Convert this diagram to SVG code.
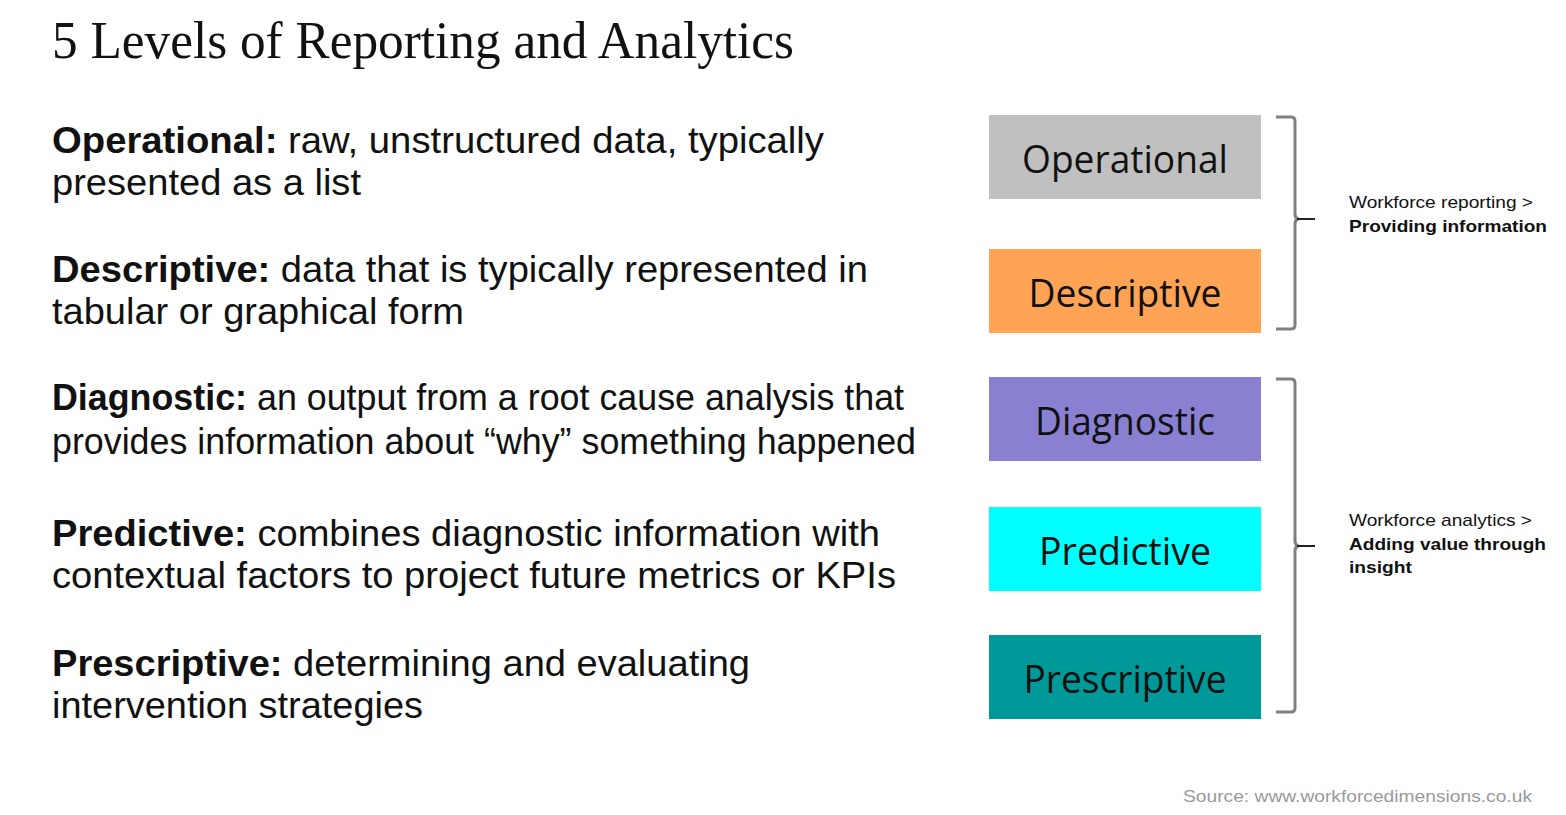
<svg xmlns="http://www.w3.org/2000/svg" width="1566" height="815" viewBox="0 0 1566 815">
<style>
.title{font-family:"Liberation Serif","Times New Roman",serif;font-size:53px;fill:#111}
.desc{font-family:"Liberation Sans",Arial,sans-serif;font-size:37px;fill:#111}
.b{font-weight:bold}
.box text{font-family:"Open Sans","Noto Sans",sans-serif;font-size:38px;fill:#111;text-anchor:middle}
.note{font-family:"Liberation Sans",Arial,sans-serif;font-size:17px;fill:#111}
.src{font-family:"Liberation Sans",Arial,sans-serif;font-size:17px;fill:#9a9a9a}
.br{fill:none;stroke:#808080;stroke-width:3}
.tip{stroke:#222;stroke-width:2}
</style>
<rect width="1566" height="815" fill="#fff"/>
<text class="title" x="52" y="58" textLength="742" lengthAdjust="spacingAndGlyphs">5 Levels of Reporting and Analytics</text>

<g id="descriptions">
<text class="desc" x="52" y="153" textLength="772" lengthAdjust="spacingAndGlyphs"><tspan class="b">Operational:</tspan> raw, unstructured data, typically</text>
<text class="desc" x="52" y="195" textLength="309" lengthAdjust="spacingAndGlyphs">presented as a list</text>
<text class="desc" x="52" y="282" textLength="816" lengthAdjust="spacingAndGlyphs"><tspan class="b">Descriptive:</tspan> data that is typically represented in</text>
<text class="desc" x="52" y="324" textLength="412" lengthAdjust="spacingAndGlyphs">tabular or graphical form</text>
<text class="desc" x="52" y="410" textLength="852" lengthAdjust="spacingAndGlyphs"><tspan class="b">Diagnostic:</tspan> an output from a root cause analysis that</text>
<text class="desc" x="52" y="454" textLength="864" lengthAdjust="spacingAndGlyphs">provides information about “why” something happened</text>
<text class="desc" x="52" y="546" textLength="828" lengthAdjust="spacingAndGlyphs"><tspan class="b">Predictive:</tspan> combines diagnostic information with</text>
<text class="desc" x="52" y="588" textLength="844" lengthAdjust="spacingAndGlyphs">contextual factors to project future metrics or KPIs</text>
<text class="desc" x="52" y="676" textLength="698" lengthAdjust="spacingAndGlyphs"><tspan class="b">Prescriptive:</tspan> determining and evaluating</text>
<text class="desc" x="52" y="718" textLength="371" lengthAdjust="spacingAndGlyphs">intervention strategies</text>
</g>

<g id="node-operational" class="box">
<rect x="989" y="115" width="272" height="84" fill="#c0c0c0"/>
<text x="1125" y="173" textLength="206" lengthAdjust="spacingAndGlyphs">Operational</text>
</g>
<g id="node-descriptive" class="box">
<rect x="989" y="249" width="272" height="84" fill="#ffa354"/>
<text x="1125" y="307" textLength="193" lengthAdjust="spacingAndGlyphs">Descriptive</text>
</g>
<g id="node-diagnostic" class="box">
<rect x="989" y="377" width="272" height="84" fill="#8a80d1"/>
<text x="1125" y="435" textLength="180" lengthAdjust="spacingAndGlyphs">Diagnostic</text>
</g>
<g id="node-predictive" class="box">
<rect x="989" y="507" width="272" height="84" fill="#00ffff"/>
<text x="1125" y="565" textLength="172" lengthAdjust="spacingAndGlyphs">Predictive</text>
</g>
<g id="node-prescriptive" class="box">
<rect x="989" y="635" width="272" height="84" fill="#009999"/>
<text x="1125" y="693" textLength="203" lengthAdjust="spacingAndGlyphs">Prescriptive</text>
</g>

<g id="connectors">
<path class="br" d="M1276,117 H1291 Q1295,117 1295,121 V214 Q1295,218 1298,219 Q1295,220 1295,224 V325 Q1295,329 1291,329 H1276"/>
<line class="tip" x1="1297" y1="219" x2="1315" y2="219"/>
<path class="br" d="M1276,379 H1291 Q1295,379 1295,383 V541 Q1295,545 1298,546 Q1295,547 1295,551 V708 Q1295,712 1291,712 H1276"/>
<line class="tip" x1="1297" y1="546" x2="1315" y2="546"/>
</g>

<g id="label-reporting">
<text class="note" x="1349" y="208" textLength="184" lengthAdjust="spacingAndGlyphs">Workforce reporting &gt;</text>
<text class="note b" x="1349" y="232" textLength="198" lengthAdjust="spacingAndGlyphs">Providing information</text>
</g>
<g id="label-analytics">
<text class="note" x="1349" y="526" textLength="183" lengthAdjust="spacingAndGlyphs">Workforce analytics &gt;</text>
<text class="note b" x="1349" y="550" textLength="197" lengthAdjust="spacingAndGlyphs">Adding value through</text>
<text class="note b" x="1349" y="573" textLength="63" lengthAdjust="spacingAndGlyphs">insight</text>
</g>

<text class="src" x="1183" y="802" textLength="349" lengthAdjust="spacingAndGlyphs">Source: www.workforcedimensions.co.uk</text>
</svg>
